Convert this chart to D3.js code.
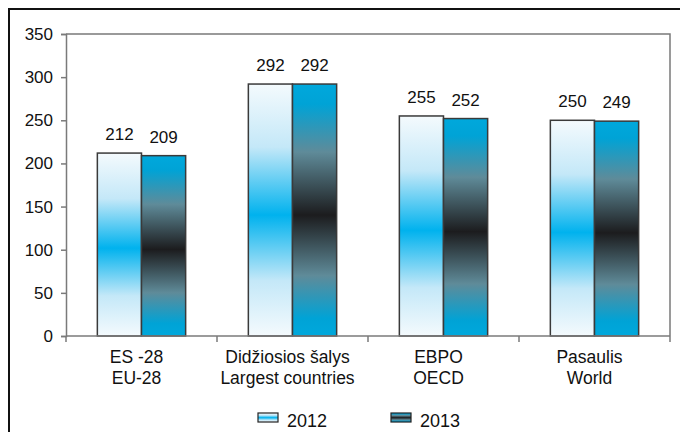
<!DOCTYPE html>
<html><head><meta charset="utf-8">
<script src="https://cdn.jsdelivr.net/npm/d3@7"></script>
<style>body{margin:0;background:#fff}svg{display:block;font-family:"Liberation Sans",Arial,sans-serif}</style>
</head><body><svg id="c" width="680" height="432"></svg>
<script>
const categories = [["ES -28","EU-28"],["Didžiosios šalys","Largest countries"],["EBPO","OECD"],["Pasaulis","World"]];
const series = ["2012","2013"];
const values2012 = [212, 292, 255, 250];
const values2013 = [209, 292, 252, 249];
const yTicks = [0,50,100,150,200,250,300,350];

const svg = d3.select("#c");
const m = {l:66, r:10, t:34, b:96};
const W = 680, H = 432;
const iw = W - m.l - m.r, ih = H - m.t - m.b;

// outer frame
svg.append("rect").attr("x",9).attr("y",9).attr("width",700).attr("height",500)
  .attr("fill","none").attr("stroke","#111").attr("stroke-width",2);

const defs = svg.append("defs");
const g1 = defs.append("linearGradient").attr("id","g2012").attr("x1",0).attr("y1",0).attr("x2",0).attr("y2",1);
[[0,"#f4fafd"],[0.25,"#c4e8f8"],[0.52,"#00b2ee"],[0.78,"#c4e8f8"],[1,"#f4fafd"]].forEach(s=>g1.append("stop").attr("offset",s[0]).attr("stop-color",s[1]));
const g2 = defs.append("linearGradient").attr("id","g2013").attr("x1",0).attr("y1",0).attr("x2",0).attr("y2",1);
[[0,"#00a8dc"],[0.08,"#00a3d6"],[0.27,"#5f8b99"],[0.52,"#1c1c1e"],[0.76,"#5f8b99"],[0.93,"#00a3d6"],[1,"#00a8dc"]].forEach(s=>g2.append("stop").attr("offset",s[0]).attr("stop-color",s[1]));
const fills = {"2012":"url(#g2012)","2013":"url(#g2013)"};

const x0 = d3.scaleBand().domain(d3.range(categories.length)).range([0, iw]);
const x1 = d3.scaleBand().domain(series).range([0, x0.bandwidth()]).paddingOuter(0.71).paddingInner(0);
const y = d3.scaleLinear().domain([0,350]).range([ih,0]);

const g = svg.append("g").attr("transform",`translate(${m.l},${m.t})`);

// plot frame top/right
g.append("path").attr("d",`M0,0H${iw}V${ih}`).attr("fill","none").attr("stroke","#7a7a7a").attr("stroke-width",1.5);

const data = categories.map((c,i)=>({i, vals:[{s:"2012",v:values2012[i]},{s:"2013",v:values2013[i]}]}));
const grp = g.selectAll(".grp").data(data).join("g").attr("transform",d=>`translate(${x0(d.i)},0)`);
grp.selectAll("rect").data(d=>d.vals).join("rect")
  .attr("x",d=>x1(d.s)).attr("y",d=>y(d.v)).attr("width",x1.bandwidth()).attr("height",d=>ih-y(d.v))
  .attr("fill",d=>fills[d.s]).attr("stroke","#3a3a3a").attr("stroke-width",1.5);
grp.selectAll("text").data(d=>d.vals).join("text")
  .attr("x",d=>x1(d.s)+x1.bandwidth()/2).attr("y",d=>y(d.v)-13)
  .attr("text-anchor","middle").attr("font-size",17).attr("fill","#111").text(d=>d.v);

// y axis
const ya = g.append("g").call(d3.axisLeft(y).tickValues(yTicks).tickSize(5).tickPadding(8));
ya.selectAll("path,line").attr("stroke","#7a7a7a").attr("stroke-width",1.5);
ya.selectAll("text").attr("font-size",17).attr("fill","#111").attr("font-family","Liberation Sans, Arial, sans-serif");

// x axis
const xa = g.append("g").attr("transform",`translate(0,${ih})`);
xa.append("line").attr("x1",0).attr("x2",iw).attr("stroke","#7a7a7a").attr("stroke-width",1.5);
const bounds = d3.range(categories.length+1).map(i=> i<categories.length ? x0(i) : x0(i-1)+x0.bandwidth());
xa.selectAll(".tk").data(bounds).join("line").attr("x1",d=>d).attr("x2",d=>d).attr("y1",0).attr("y2",6)
  .attr("stroke","#7a7a7a").attr("stroke-width",1.5);
const lab = xa.selectAll(".lab").data(categories).join("text")
  .attr("text-anchor","middle").attr("font-size",17.5).attr("fill","#111")
  .attr("transform",(d,i)=>`translate(${x0(i)+x0.bandwidth()/2-5},0)`);
lab.selectAll("tspan").data(d=>d).join("tspan").attr("x",0).attr("y",(d,j)=>27+j*21).text(d=>d);

// legend
const leg = svg.append("g");
const legX = [258, 391];
series.forEach((s,i)=>{
  leg.append("rect").attr("x",legX[i]).attr("y",413).attr("width",20).attr("height",9)
    .attr("fill",fills[s]).attr("stroke","#222").attr("stroke-width",1.2);
  leg.append("text").attr("x",legX[i]+29).attr("y",427).attr("font-size",18).attr("fill","#111").text(s);
});
</script></body></html>
